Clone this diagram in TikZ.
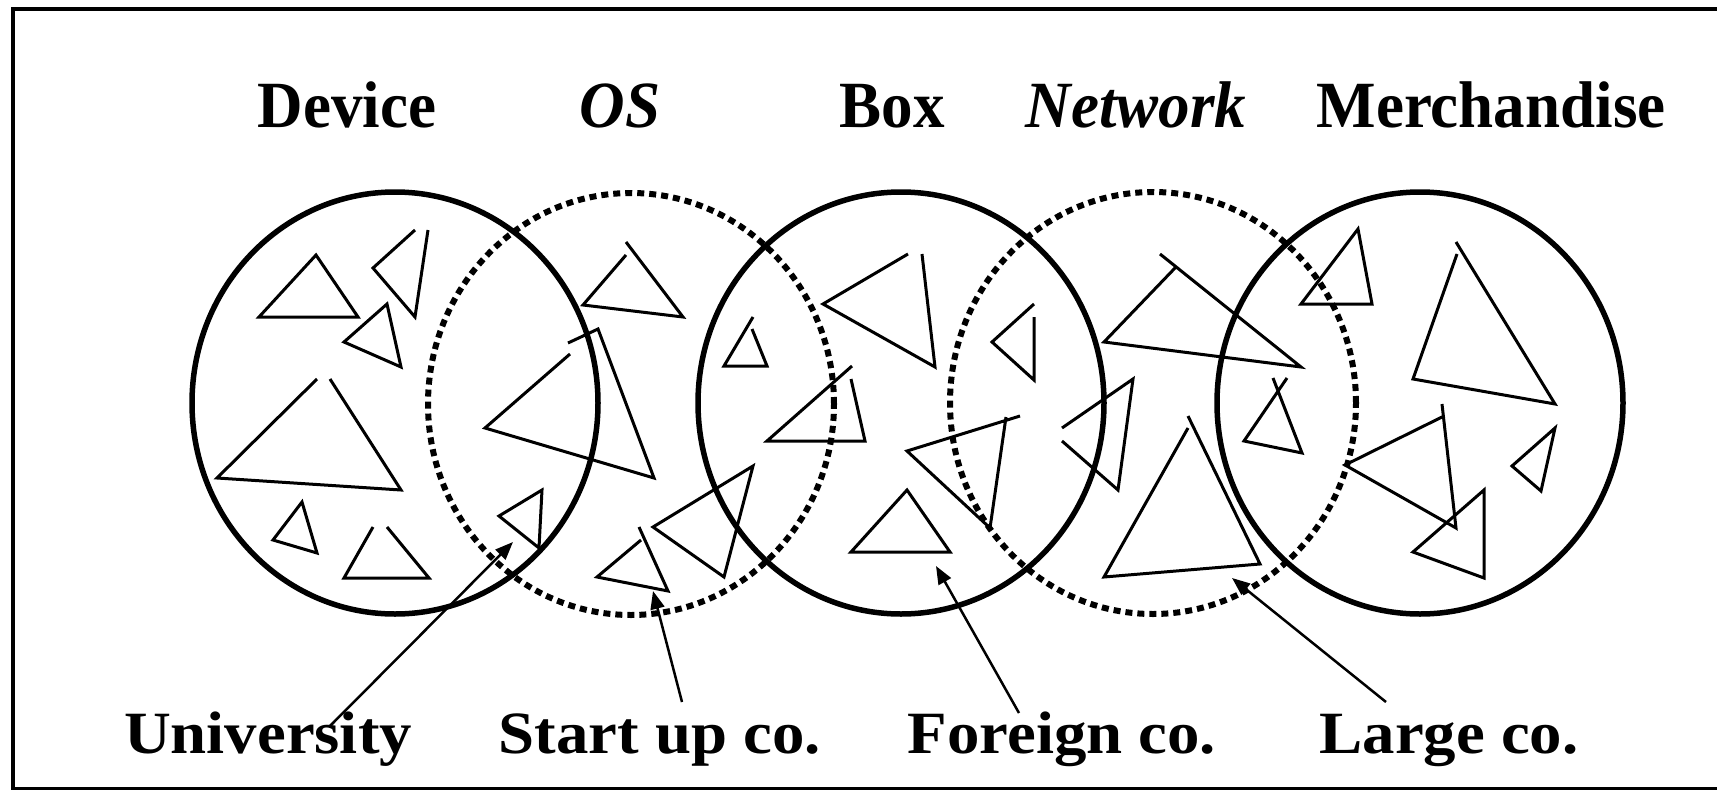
\documentclass[tikz,border=0pt]{standalone}
\usepackage{fontspec}
\setmainfont{Liberation Serif}
\newfontfamily\headfont[FakeStretch=0.955]{Liberation Serif}
\newfontfamily\tagfont[FakeStretch=1.08]{Liberation Serif}
\usetikzlibrary{arrows.meta}
\tikzset{
  ring/.style={line width=5.5pt},
  dotring/.style={line width=6pt, dash pattern=on 7pt off 5pt},
  tri/.style={line width=3pt, line join=miter},
  pointer/.style={line width=2.5pt, -{Triangle[length=18pt,width=14pt]}},
  heading/.style={anchor=base, inner sep=0pt, font=\headfont\bfseries\fontsize{66}{70}\selectfont},
  firm/.style={anchor=base, inner sep=0pt, font=\tagfont\bfseries\fontsize{60}{64}\selectfont}
}
\begin{document}
\begin{tikzpicture}[x=1pt,y=-1pt]
\useasboundingbox (0,0) rectangle (1717,790);
\draw [line width=4pt] (1730,9) --(13,9) --(13,789) --(1730,789);
% layers
\node [heading] (device) at (347,127) {Device};
\node [heading] (os) at (620,127) {\itshape OS};
\node [heading] (box) at (892,127) {Box};
\node [heading] (network) at (1136,127) {\itshape Network};
\node [heading] (merch) at (1491,127) {Merchandise};
\draw [ring] (395,403) ellipse [x radius=203pt, y radius=211pt];
\draw [dotring] (631,404) ellipse [x radius=203pt, y radius=211pt];
\draw [ring] (901,403) ellipse [x radius=203pt, y radius=211pt];
\draw [dotring] (1153,403) ellipse [x radius=203pt, y radius=211pt];
\draw [ring] (1420,403) ellipse [x radius=203pt, y radius=211pt];
% firms in Device
\draw [tri] (316,255) --(358,317) --(259,317) --cycle;
\draw [tri] (415,230) --(373,268) --(415,317) --(428,230);
\draw [tri] (387,304) --(344,342) --(401,367) --cycle;
\draw [tri] (317,379) --(217,478) --(401,490) --(330,379);
\draw [tri] (302,502) --(273,540) --(317,553) --cycle;
\draw [tri] (373,527) --(344,578) --(429,578) --(387,527);
% firms in OS
\draw [tri] (542,490) --(499,516) --(539,548) --cycle;
\draw [tri] (626,255) --(583,305) --(683,317) --(626,242);
\draw [tri] (570,354) --(485,428) --(654,478) --(598,329) --(568,343);
\draw [tri] (641,540) --(597,577) --(668,591) --(639,527);
\draw [tri] (753,466) --(653,527) --(724,577) --cycle;
% firms in Box
\draw [tri] (753,317) --(724,366) --(767,366) --(752,329);
\draw [tri] (852,366) --(767,441) --(865,441) --(851,379);
\draw [tri] (908,254) --(823,304) --(935,367) --(922,254);
\draw [tri] (1034,304) --(992,342) --(1034,380) --(1034,317);
\draw [tri] (1020,416) --(907,451) --(990,528) --(1006,417);
\draw [tri] (907,490) --(851,552) --(950,552) --cycle;
% firms in Network
\draw [tri] (1175,268) --(1104,342) --(1301,367) --(1160,254);
\draw [tri] (1062,428) --(1133,379) --(1118,490) --(1062,441);
\draw [tri] (1188,428) --(1104,577) --(1260,564) --(1188,416);
\draw [tri] (1287,378) --(1244,441) --(1302,453) --(1273,378);
% firms in Merchandise
\draw [tri] (1358,229) --(1301,304) --(1372,304) --cycle;
\draw [tri] (1457,254) --(1413,379) --(1555,404) --(1456,242);
\draw [tri] (1442,417) --(1345,465) --(1456,528) --(1442,404);
\draw [tri] (1555,428) --(1512,466) --(1541,491) --cycle;
\draw [tri] (1484,490) --(1413,552) --(1484,578) --cycle;
% kinds of firm
\node [firm] (univ) at (268,753) {University};
\node [firm] (startup) at (660,753) {Start up co.};
\node [firm] (foreign) at (1062,753) {Foreign co.};
\node [firm] (large) at (1449,753) {Large co.};
\coordinate (univ-tail) at (329,727);
\coordinate (univ-tip) at (513,542);
\coordinate (startup-tail) at (682,702);
\coordinate (startup-tip) at (653,591);
\coordinate (foreign-tail) at (1019,713);
\coordinate (foreign-tip) at (936,566);
\coordinate (large-tail) at (1386,702);
\coordinate (large-tip) at (1232,578);
\draw [pointer] (univ-tail) --(univ-tip);
\draw [pointer] (startup-tail) --(startup-tip);
\draw [pointer] (foreign-tail) --(foreign-tip);
\draw [pointer] (large-tail) --(large-tip);
\end{tikzpicture}
\end{document}
